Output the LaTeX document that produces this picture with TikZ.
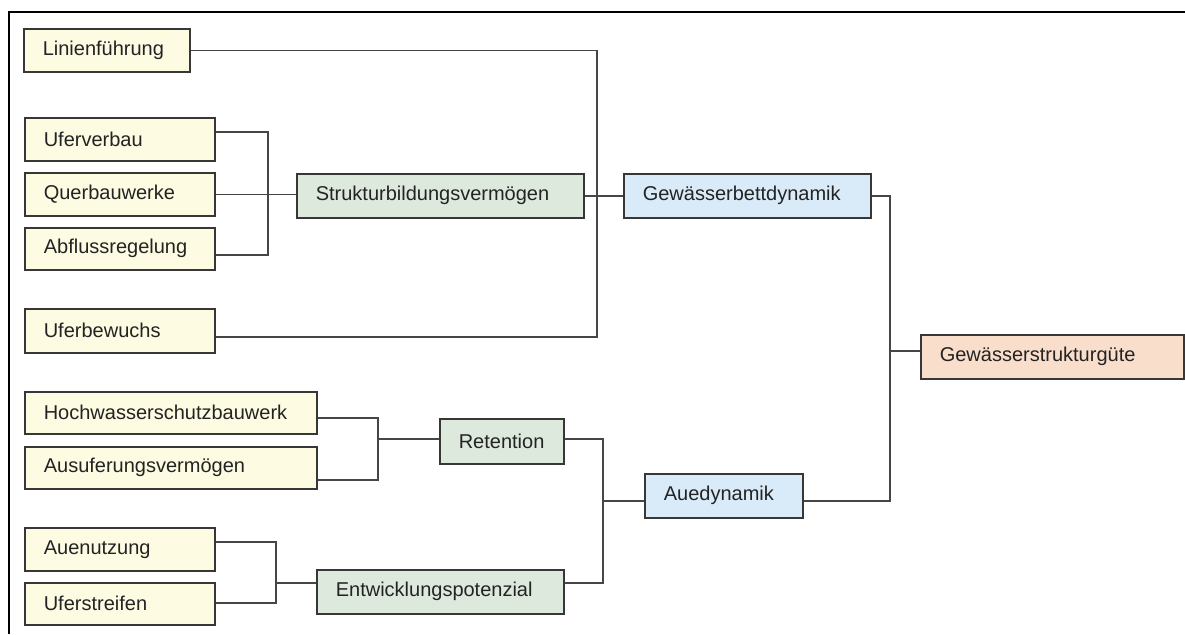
\documentclass[tikz,border=0pt]{standalone}
\usepackage{fontspec}
\setmainfont{Liberation Sans}
\definecolor{cYel}{RGB}{253,251,226}
\definecolor{cGrn}{RGB}{222,233,222}
\definecolor{cBlu}{RGB}{217,234,248}
\definecolor{cSal}{RGB}{250,222,204}
\definecolor{cLine}{RGB}{70,70,70}
\definecolor{cBord}{RGB}{55,55,55}
\definecolor{cText}{RGB}{35,35,35}
\tikzset{
  box/.style={draw=cBord, line width=1.6pt, anchor=north west, inner xsep=19pt, inner ysep=0pt,
    align=left, text=cText, font=\fontsize{20}{24}\selectfont},
  conn/.style={draw=cLine, line width=1.5pt},
  frameline/.style={draw=black, line width=1.5pt}
}
\newcommand\bx[7]{\node[box, fill=#6, text width=#4pt, minimum height=#5pt] (#1) at (#2,#3) {\mbox{#7}};}
\begin{document}
\begin{tikzpicture}[x=1pt,y=-1pt]
\useasboundingbox (0,0) rectangle (1185,634);
\draw[frameline] (9,634) -- (9,12) -- (1185,12);

\bx{lin}{23}{28}{128}{43}{cYel}{Linienführung}
\bx{ufv}{24}{117}{152}{43}{cYel}{Uferverbau}
\bx{qbw}{24}{172}{152}{43}{cYel}{Querbauwerke}
\bx{abr}{24}{227}{152}{42}{cYel}{Abflussregelung}
\bx{ufb}{24}{308}{152}{44}{cYel}{Uferbewuchs}
\bx{hws}{24}{391}{254}{42}{cYel}{Hochwasserschutzbauwerk}
\bx{aus}{24}{446}{254}{42}{cYel}{Ausuferungsvermögen}
\bx{aun}{24}{527}{152}{43}{cYel}{Auenutzung}
\bx{ufs}{24}{582}{152}{42}{cYel}{Uferstreifen}
\bx{sbv}{296}{173}{249}{44}{cGrn}{Strukturbildungsvermögen}
\bx{ret}{439}{418}{86}{45}{cGrn}{Retention}
\bx{ewp}{316}{569}{209}{44}{cGrn}{Entwicklungspotenzial}
\bx{gbd}{623}{173}{209}{44}{cBlu}{Gewässerbettdynamik}
\bx{aue}{644}{473}{120}{44}{cBlu}{Auedynamik}
\bx{gsg}{920}{334}{225}{44}{cSal}{Gewässerstrukturgüte}

\coordinate (jA) at (597,337);
\coordinate (jB) at (268,193);
\coordinate (jC) at (890,351);
\coordinate (jD) at (378,439);
\coordinate (jE) at (276,583);
\coordinate (jF) at (603,501);

\draw[conn] (lin.east) -| (jA) -- (jA -| ufb.east);
\draw[conn] (sbv.east) -- (gbd.west);
\draw[conn] (ufv.east |- 0,132) -| (jB) |- (abr.east |- 0,255);
\draw[conn] (qbw.east) -- (qbw.east -| sbv.west);
\draw[conn] (gbd.east) -| (jC) |- (aue.east |- 0,501);
\draw[conn] (jC) -- (jC -| gsg.west);
\draw[conn] (hws.east |- 0,418) -| (jD) |- (aus.east |- 0,480);
\draw[conn] (jD) -- (jD -| ret.west);
\draw[conn] (aun.east |- 0,542) -| (jE) |- (ufs.east |- 0,603);
\draw[conn] (jE) -- (jE -| ewp.west);
\draw[conn] (ret.east |- 0,439) -| (jF) |- (ewp.east |- 0,583);
\draw[conn] (jF) -- (jF -| aue.west);
\end{tikzpicture}
\end{document}
